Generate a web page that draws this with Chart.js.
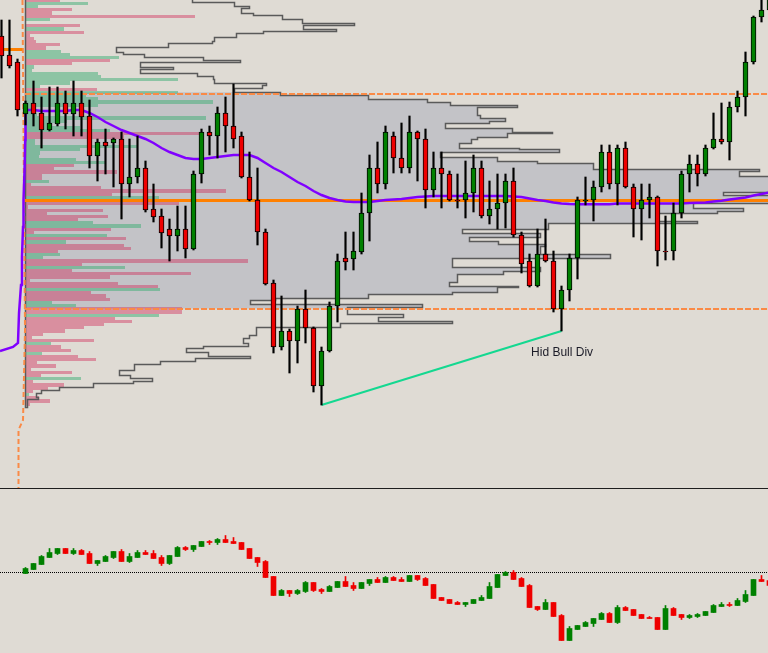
<!DOCTYPE html>
<html>
<head>
<meta charset="utf-8">
<title>Session volume profile</title>
<script src="https://cdn.jsdelivr.net/npm/chart.js@4.4.1/dist/chart.umd.min.js"></script>
<style>
  html, body { margin: 0; padding: 0; background: #dfdbd4; }
  #wrap { width: 768px; height: 653px; overflow: hidden; }
  canvas { display: block; }
  .sep { height: 1px; background: #1e1e1e; }
</style>
</head>
<body>
<div id="wrap">
  <canvas id="price" width="768" height="488"></canvas>
  <div class="sep"></div>
  <canvas id="osc" width="768" height="164"></canvas>
</div>
<script>
// price candles, one per bar (index 0 = first visible bar)
const openP = [452,433,426,374,385,375,358,364,385,374, 385,372,332,346,345,349,304,311,320,279,
  272,259,252,259,239,314,356,352,375,362, 352,311,288,256,205,141,157,147,179,160,
  102,137,182,230,229,236,275,320,304,352, 330,320,356,349,298,320,314,288,288,295,
  320,272,279,285,307,253,227,202,234,227, 179,198,230,287,288,301,336,304,340,301,
  279,288,291,237,237,275,314,324,314,340, 349,346,381,391,426,471,478];
const highP = [468,468,429,387,407,391,401,401,397,407, 397,388,349,359,350,356,349,352,327,304,
  279,269,282,282,317,359,362,381,391,404, 356,336,320,259,208,192,159,182,198,161,
  141,186,234,256,256,295,333,346,362,356, 365,372,357,359,336,336,317,314,327,333,
  327,307,314,314,320,256,234,259,269,237, 202,234,291,311,307,343,343,343,346,304,
  304,304,292,272,285,317,333,333,343,375, 385,386,397,436,472,490,498];
const lowP = [410,420,372,363,362,340,357,362,359,352, 352,320,307,314,301,269,291,305,276,266,
  240,227,237,230,238,305,333,330,336,340, 310,287,243,203,135,138,115,125,145,96,
  83,136,166,218,218,234,247,295,299,315, 315,315,307,280,291,280,287,280,270,276,
  270,264,259,260,251,215,201,201,226,176, 157,187,209,283,267,296,299,283,300,251,
  248,270,222,228,228,270,296,302,312,339, 344,328,376,372,424,466,476];
const closeP = [432,422,378,385,374,358,365,385,374,385, 371,332,346,342,349,304,311,320,278,271,
  255,252,259,239,314,356,352,375,362,349, 311,288,256,204,141,157,147,179,160,102,
  137,182,227,226,237,275,320,304,356,330, 320,356,349,298,320,314,288,287,295,320,
  272,279,285,307,253,224,202,234,227,179, 198,230,288,288,301,336,304,340,301,279,
  288,291,237,236,275,314,324,314,340,349, 346,381,391,426,471,478,496];

// oscillator drawn as candles (no value for the first three bars)
const oscOpen = [null,null,null,-1,3,8,15,19,24,19, 22,19,9,11,15,21,11,15,20,19,
  15,9,16,25,23,26,31,30,33,31, 30,24,15,11,-4,-23,-18,-21,-19,-10,
  -17,-19,-15,-9,-13,-16,-11,-7,-10,-5, -7,-9,-3,-6,-12,-25,-27,-30,-32,-31,
  -28,-26,-15,-3,0,-6,-13,-34,-37,-30, -43,-68,-57,-54,-51,-47,-41,-50,-35,-37,
  -42,-45,-45,-57,-36,-42,-45,-44,-43,-40, -34,-32,-33,-29,-23,-7,-8];
const oscHigh = [null,null,null,5,9,17,24,24,24,24, 23,21,12,17,21,23,19,22,22,22,
  17,17,26,26,27,31,32,34,37,35, 30,24,15,12,-4,-17,-18,-17,-9,-10,
  -16,-13,-9,-4,-10,-10,-7,-5,-4,-4, -5,-3,-3,-5,-12,-25,-27,-29,-30,-27,
  -23,-10,-2,1,2,-5,-12,-34,-27,-30, -42,-54,-53,-49,-46,-40,-40,-33,-34,-37,
  -42,-44,-45,-33,-35,-42,-42,-41,-39,-32, -30,-30,-26,-18,-7,-3,-8];
const oscLow = [null,null,null,-1,3,8,15,18,19,18, 18,9,7,11,14,11,10,15,18,14,
  7,8,16,22,21,26,28,28,30,29, 23,14,6,-5,-23,-23,-24,-22,-20,-19,
  -21,-19,-15,-14,-18,-16,-13,-10,-10,-8, -9,-9,-8,-13,-26,-28,-31,-32,-34,-31,
  -28,-26,-15,-3,-7,-14,-35,-38,-37,-44, -68,-68,-57,-54,-54,-47,-50,-51,-38,-43,
  -46,-46,-57,-57,-43,-47,-46,-45,-43,-40, -34,-34,-33,-30,-23,-9,-13];
const oscClose = [null,null,null,4,9,16,20,24,19,22, 18,9,12,16,21,11,16,20,18,14,
  9,17,25,23,27,31,30,33,30,29, 23,14,10,-5,-23,-18,-21,-18,-10,-18,
  -19,-14,-9,-14,-16,-10,-7,-10,-5,-8, -9,-3,-7,-13,-26,-28,-31,-32,-30,-27,
  -25,-14,-2,0,-7,-14,-35,-37,-30,-44, -68,-56,-53,-50,-46,-41,-50,-35,-38,-43,
  -46,-46,-57,-36,-43,-45,-43,-42,-39,-33, -32,-33,-28,-22,-7,-9,-13];

// session VWAP-style line: tail of the previous session, then one value per bar from bar 3
const maPrevX = [-0.19, 1.44, 2.06, 2.19, 2.44, 2.56, 2.69, 2.75, 2.88, 2.96];
const maPrevY = [137, 141, 145, 175, 203, 231, 261, 288, 318, 348];
const maSession = [378,378,377,377,377,377,378,378,375,371,
  366,362,358,355,352,349,345,340,336,333,
  330,329,329,330,331,332,333,333,333,330,
  325,320,316,311,306,302,297,293,290,288,
  286.5,286,286,286,287,288,288.5,289,290,291,
  291.5,292,292,292,292,292,292,292,292,292,
  292,291.5,291,289.5,288,287,285.5,284.5,284,283.7,
  283.7,283.7,283.7,283.7,284.5,284.5,284.5,284.5,284.5,284.5,
  284.5,284.5,284.5,285,285.3,285.5,286.5,287.3,288.5,289.5,
  290.5,292.5,294,295.5];

// key levels
const vaHigh = 394, vaLow = 179, poc = 287.5, prevPoc = 438.5;
const vaFillTop = 395.7, vaFillBottom = 179.5;
const sessionStart = 2.94;
const sepX = [2.625, 2.94, 2.69, 2.125, 2.125];
const sepY = [488, 158, 68, 58, 0];
const divFrom = 40, divTo = 70;
const divLabel = 'Hid Bull Div';

// bid/ask profile: rows from the top, 'g' = buying, 'p' = selling
const profTop = 489.3, profStep = 3.18;
const profLen = [35,63,13,47,27,170,25,0,55,39, 59,5,9,11,35,21,36,45,94,85,
  47,9,7,73,76,153,45,15,72,153, 61,73,188,73,8,8,12,181,42,25,
  55,85,175,99,10,10,112,55,15,14, 51,80,49,29,92,17,17,24,6,76,
  201,87,134,19,154,3,78,22,83,53, 68,116,86,9,82,101,41,99,106,33,
  35,18,223,57,100,47,166,85,5,93, 133,135,66,81,85,27,51,157,157,134,
  90,107,79,59,40,18,7,69,26,36, 46,17,53,71,12,31,6,47,16,56,
  8,39,23,8,4,14,25,5];
const profSide = ('pggpppgppg' + 'ppppppgggp' + 'pgggggggpg' + 'gggggggggg' + 'ggppgggggg' +
  'ggpppppgpp' + 'ppgppppppp' + 'ggppgpgppp' + 'ggppgppppp' + 'pgpppggppg' +
  'ppppppppgp' + 'pgpppppppg' + 'ppppgppp').split('');

// session volume profile (outlined), row top price and length
const grayTop = [490,485.7,481.7,479.7,475.3,472.7,469.3,465.3,463.3,459.3,
  457.3,454.7,450.7,446.7,444.7,441.3,436.3,433.7,430.7,427.7,
  425.7,420.7,418.7,414.7,412,408.7,404.7,402.7,399.7,
  395.7,392.7,388.7,385.7,382.7,380.7,373,369.7,367.3,364.7,
  359.7,356.3,354.7,351.3,348.7,344.7,340.5,338.5,336,331.3,
  327.3,324.7,319,317.3,312,296.5,292.7,284.7,279.7,277.3,
  274.7,267,264.7,259,254.7,251.3,247.3,244,242,234,
  229.7,221.3,217.3,214,206.3,202.5,200.7,196.3,194,190.3,
  188,183.7,181.3,173.7,171.3,167.3,165.3,161.3,153,149.7,
  144.7,142.5,139.7,135.7,132.3,129.7,126.7,123.7,118,112.7,
  109.7,107.3,104.7,100.7,98,94.7,91,88.7];
const grayLen = [167,209,224,216,228,257,277,329,278,311,
  238,211,189,187,143,91,98,119,178,215,
  115,148,115,172,188,189,241,237,209,
  255,343,402,425,492,452,455,480,464,420,
  487,527,482,452,446,434,494,534,415,472,
  512,568,734,714,775,698,775,668,718,692,
  632,672,523,437,515,444,473,520,515,585,
  427,515,478,432,424,493,472,427,343,250,
  225,397,322,378,353,427,315,231,224,218,
  223,178,161,183,225,170,135,109,94,105,
  127,108,68,34,16,11,13,2];
const grayBottom = 81.3;

const X_MIN = -1.5 / 8, X_MAX = (768 - 1.5) / 8;

function candleSets(o, h, l, c, style) {
  const wick = [], body = [], bodyColor = [], wickColor = [];
  for (let i = 0; i < o.length; i++) {
    if (o[i] == null) continue;
    const col = c[i] >= o[i] ? style.up : style.down;
    wick.push({ x: i, y: [l[i], h[i]] });
    body.push({ x: i, y: [o[i], c[i]] });
    bodyColor.push(col);
    wickColor.push(style.wick || col);
  }
  return [
    { type: 'bar', data: body, backgroundColor: bodyColor,
      borderColor: style.border || bodyColor, borderWidth: style.border ? 1 : 0,
      borderSkipped: false, barThickness: 5, grouped: false, order: 0 },
    { type: 'bar', data: wick, backgroundColor: wickColor,
      barThickness: style.wickWidth, grouped: false, order: 1 }
  ];
}

function line(points, color, width, dash, order) {
  return { type: 'line', data: points, borderColor: color, borderWidth: width,
    borderDash: dash || [], pointRadius: 0, tension: 0, order };
}

function hline(price, from, to, color, width, dash, order) {
  return line([{ x: from, y: price }, { x: to, y: price }], color, width, dash, order);
}

const profilePlugin = {
  id: 'sessionProfile',
  beforeDatasetsDraw(chart) {
    const { ctx, scales } = chart;
    const y = scales.y, xp = scales.xp;
    const x0 = Math.round(xp.getPixelForValue(0));
    const py = v => Math.round(y.getPixelForValue(v));
    const px = v => Math.round(xp.getPixelForValue(v));
    const rowBottom = i => (i + 1 < grayTop.length ? grayTop[i + 1] : grayBottom);

    // value area: profile rows filled grey
    ctx.save();
    const ct = y.getPixelForValue(vaFillTop), cb = y.getPixelForValue(vaFillBottom);
    ctx.beginPath();
    ctx.rect(0, ct, chart.width, cb - ct);
    ctx.clip();
    ctx.fillStyle = '#c3c3c7';
    grayTop.forEach((top, i) => {
      const yt = py(top), yb = py(rowBottom(i));
      ctx.fillRect(x0, yt, px(grayLen[i]) - x0, yb - yt);
    });
    ctx.restore();

    // bid / ask rows
    ctx.save();
    profLen.forEach((len, i) => {
      if (!len) return;
      const top = profTop - i * profStep;
      const yt = py(top), yb = py(top - profStep);
      ctx.fillStyle = profSide[i] === 'g' ? 'rgba(59,173,116,0.5)' : 'rgba(208,30,80,0.4)';
      ctx.fillRect(x0, yt, px(len) - x0, yb - yt);
    });

    // profile outline
    ctx.beginPath();
    ctx.moveTo(x0 + 0.5, py(grayTop[0]) + 0.5);
    grayTop.forEach((top, i) => {
      const xe = px(grayLen[i]) + 0.5;
      ctx.lineTo(xe, py(top) + 0.5);
      ctx.lineTo(xe, py(rowBottom(i)) + 0.5);
    });
    ctx.lineTo(x0 + 0.5, py(grayBottom) + 0.5);
    ctx.closePath();
    ctx.strokeStyle = '#5a5a5a';
    ctx.lineWidth = 1.5;
    ctx.stroke();
    ctx.restore();
  },
  afterDatasetsDraw(chart) {
    const { ctx, scales: { x, y } } = chart;
    ctx.save();
    ctx.font = '12px "Liberation Sans", Arial, sans-serif';
    ctx.fillStyle = '#1c1c28';
    ctx.fillText(divLabel, x.getPixelForValue(66.2), y.getPixelForValue(132));
    ctx.restore();
  }
};

const baseOptions = (yMin, yMax, extraScales) => ({
  responsive: false,
  animation: false,
  devicePixelRatio: 1,
  layout: { padding: 0 },
  plugins: { legend: { display: false }, tooltip: { enabled: false } },
  scales: Object.assign({
    x: { type: 'linear', min: X_MIN, max: X_MAX, offset: false, display: false },
    y: { type: 'linear', min: yMin, max: yMax, display: false }
  }, extraScales || {})
});

const maData = maPrevX.map((x, i) => ({ x, y: maPrevY[i] }))
  .concat(maSession.map((v, i) => ({ x: i + 3, y: v })));

new Chart(document.getElementById('price'), {
  type: 'bar',
  data: {
    datasets: [
      ...candleSets(openP, highP, lowP, closeP,
        { up: '#008000', down: '#ee0000', border: '#000', wick: '#000', wickWidth: 1.5 }),
      line(maData, '#8000ff', 2.5, null, 2),
      line([{ x: divFrom, y: lowP[divFrom] }, { x: divTo, y: lowP[divTo] }], '#14d890', 2, null, 2),
      hline(poc, sessionStart, X_MAX + 1, '#ff8000', 3, null, 3),
      hline(prevPoc, X_MIN - 1, 2.6, '#ff8000', 3, null, 3),
      hline(vaHigh, sessionStart, X_MAX + 1, '#fa8a46', 2, [6, 2], 3),
      hline(vaLow, sessionStart, X_MAX + 1, '#fa8a46', 2, [6, 2], 3),
      line(sepX.map((x, i) => ({ x, y: sepY[i] })), '#fa8a46', 2, [5, 3], 3)
    ]
  },
  options: baseOptions(0, 488, {
    xp: { type: 'linear', axis: 'x', min: -25, max: 743, offset: false, display: false }
  }),
  plugins: [profilePlugin]
});

new Chart(document.getElementById('osc'), {
  type: 'bar',
  data: {
    datasets: [
      ...candleSets(oscOpen, oscHigh, oscLow, oscClose,
        { up: '#008000', down: '#ee0000', wickWidth: 1 }),
      hline(0, X_MIN - 1, X_MAX + 1, '#000', 1, [1, 1], 3)
    ]
  },
  options: baseOptions(-80.5, 83.5)
});
</script>
</body>
</html>
